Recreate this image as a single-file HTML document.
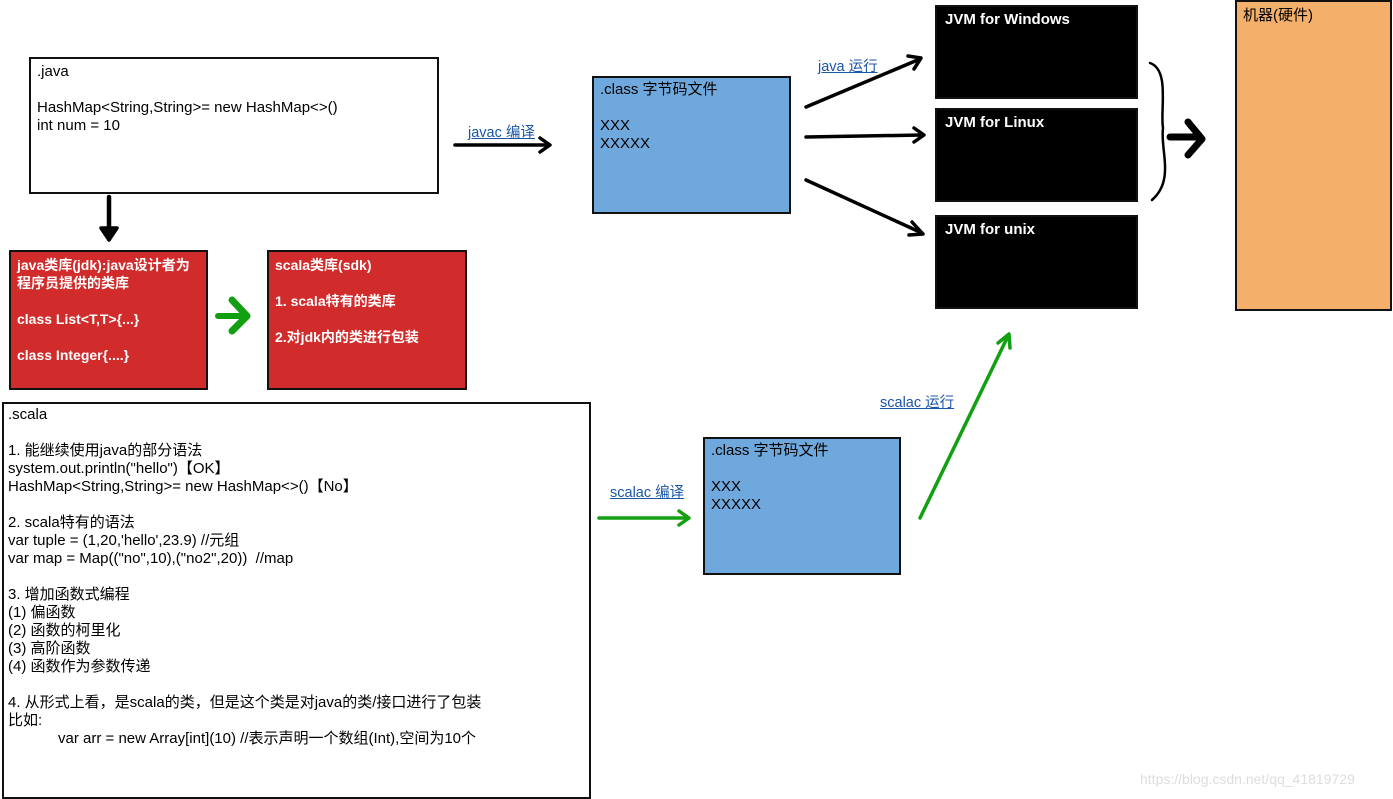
<!DOCTYPE html>
<html><head><meta charset="utf-8"><style>
body{margin:0;width:1393px;height:799px;background:#fff;position:relative;overflow:hidden;font-family:"Liberation Sans","Noto Sans CJK SC",sans-serif;font-size:15px;}
.b{position:absolute;box-sizing:border-box;border:2px solid #111;}
.t{position:absolute;white-space:pre;line-height:18px;}
.w{color:#fff;font-weight:bold;}
.lk{position:absolute;color:#1a56a8;text-decoration:underline;font-size:14.5px;white-space:pre;}
</style></head><body>
<div class="b" style="left:29px;top:57px;width:410px;height:137px;background:#fff"></div>
<div class="t" style="left:37px;top:63px">.java

HashMap&lt;String,String&gt;= new HashMap&lt;&gt;()
int num = 10</div>

<div class="b" style="left:592px;top:76px;width:199px;height:138px;background:#6fa8dc"></div>
<div class="t" style="left:600px;top:81px">.class 字节码文件

XXX
XXXXX</div>

<div class="b" style="left:703px;top:437px;width:198px;height:138px;background:#6fa8dc"></div>
<div class="t" style="left:711px;top:442px">.class 字节码文件

XXX
XXXXX</div>

<div class="b" style="left:935px;top:5px;width:203px;height:94px;background:#000"></div>
<div class="t w" style="left:945px;top:11px">JVM for Windows</div>
<div class="b" style="left:935px;top:108px;width:203px;height:94px;background:#000"></div>
<div class="t w" style="left:945px;top:114px">JVM for Linux</div>
<div class="b" style="left:935px;top:215px;width:203px;height:94px;background:#000"></div>
<div class="t w" style="left:945px;top:221px">JVM for unix</div>

<div class="b" style="left:1235px;top:0px;width:157px;height:311px;background:#f4b06a"></div>
<div class="t" style="left:1243px;top:7px">机器(硬件)</div>

<div class="b" style="left:9px;top:250px;width:199px;height:140px;background:#d22b2b"></div>
<div class="t w" style="left:17px;top:256px;font-size:14px">java类库(jdk):java设计者为
程序员提供的类库

class List&lt;T,T&gt;{...}

class Integer{....}</div>
<div class="b" style="left:267px;top:250px;width:200px;height:140px;background:#d22b2b"></div>
<div class="t w" style="left:275px;top:256px;font-size:14px">scala类库(sdk)

1. scala特有的类库

2.对jdk内的类进行包装</div>

<div class="b" style="left:2px;top:402px;width:589px;height:397px;background:#fff"></div>
<div class="t" style="left:8px;top:406px">.scala

1. 能继续使用java的部分语法
system.out.println("hello")【OK】
HashMap&lt;String,String&gt;= new HashMap&lt;&gt;()【No】

2. scala特有的语法
var tuple = (1,20,'hello',23.9) //元组
var map = Map(("no",10),("no2",20))  //map

3. 增加函数式编程
(1) 偏函数
(2) 函数的柯里化
(3) 高阶函数
(4) 函数作为参数传递

4. 从形式上看，是scala的类，但是这个类是对java的类/接口进行了包装
比如:
            var arr = new Array[int](10) //表示声明一个数组(Int),空间为10个</div>

<div class="lk" style="left:468px;top:121px">javac 编译</div>
<div class="lk" style="left:818px;top:55px">java 运行</div>
<div class="lk" style="left:610px;top:481px">scalac 编译</div>
<div class="lk" style="left:880px;top:391px">scalac 运行</div>
<div class="t" style="left:1140px;top:770px;color:#ddd;font-size:14px">https://blog.csdn.net/qq_41819729</div>

<svg width="1393" height="799" style="position:absolute;left:0;top:0" fill="none" stroke-linecap="round" stroke-linejoin="round">
<g stroke="#000" stroke-width="3.5">
<path d="M109 197 L109 232" stroke-width="4.5"/><path d="M101 228 L109 240 L117 228 Z" fill="#000"/>
<path d="M455 145 L548 145"/><path d="M540 138 L550 145 L540 152"/>
<path d="M806 107 L920 59"/><path d="M908 56 L921 58 L914 69"/>
<path d="M806 137 L922 135"/><path d="M914 128 L924 135 L914 142"/>
<path d="M806 180 L922 233"/><path d="M912 222 L923 234 L909 235"/>
</g>
<path d="M1150 63 C1170 70,1160 110,1163 128 C1160 150,1175 180,1152 200" stroke="#000" stroke-width="2.5"/>
<path d="M1170 137 L1200 137 M1188 122 L1202 139 L1188 155" stroke="#000" stroke-width="7"/>
<g stroke="#12a012" stroke-width="3.5">
<path d="M218 316 L244 316" stroke-width="6"/><path d="M232 300 L247 316 L232 331" stroke-width="7"/>
<path d="M599 518 L688 518"/><path d="M679 511 L689 518 L679 525"/>
<path d="M920 518 L1008 336"/><path d="M998 343 L1009 334 L1010 348"/>
</g>
</svg>
</body></html>
